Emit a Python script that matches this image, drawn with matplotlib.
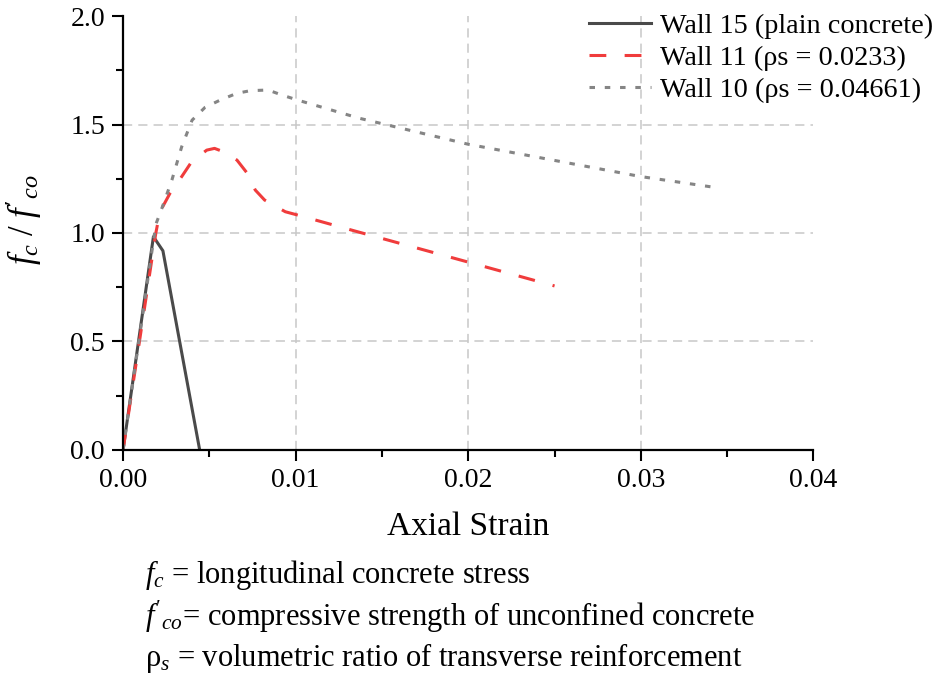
import numpy as np
import matplotlib
matplotlib.use("Agg")
import matplotlib.pyplot as plt

plt.rcParams["font.family"] = ["Liberation Serif", "DejaVu Serif"]
plt.rcParams["mathtext.fontset"] = "custom"
plt.rcParams["mathtext.rm"] = "Liberation Serif"
plt.rcParams["mathtext.it"] = "Liberation Serif:italic"

# data
wall15_strain = [0.0, 0.00176, 0.00231, 0.00444]
wall15_stress = [0.0, 0.983, 0.918, 0.0]

wall11_strain = [0.0, 0.0019, 0.00214, 0.00272, 0.0034, 0.00398, 0.00485, 0.0053,
                 0.0058, 0.0066, 0.0072, 0.00766, 0.0082, 0.0094, 0.0101, 0.01335,
                 0.0199, 0.0250]
wall11_stress = [0.0, 1.0, 1.098, 1.183, 1.26, 1.329, 1.382, 1.39,
                 1.375, 1.336, 1.275, 1.198, 1.152, 1.098, 1.083, 1.011,
                 0.868, 0.756]

wall10_strain = [0.0, 0.0019, 0.00225, 0.00283, 0.0034, 0.004, 0.00475, 0.00564,
                 0.0066, 0.00738, 0.0084, 0.0092, 0.0101, 0.01368, 0.02, 0.03, 0.0343]
wall10_stress = [0.0, 1.04, 1.114, 1.244, 1.398, 1.52, 1.579, 1.613,
                 1.644, 1.656, 1.659, 1.636, 1.613, 1.529, 1.409, 1.26, 1.21]

labels = ["Wall 15 (plain concrete)", "Wall 11 (ρs = 0.0233)", "Wall 10 (ρs = 0.04661)"]
notes = [r"$f_c$ = longitudinal concrete stress",
         r"$f'_{co}$= compressive strength of unconfined concrete",
         r"ρ$_s$ = volumetric ratio of transverse reinforcement"]

fig = plt.figure(figsize=(9.35, 6.79), dpi=100)
ax = fig.add_axes([0.1316, 0.3373, 0.7384, 0.6391])

ax.plot(wall15_strain, wall15_stress, color="#4a4a4a", lw=2.2, label=labels[0])
ax.plot(wall11_strain, wall11_stress, color="#f03c3c", lw=2.2, dashes=(5.5, 6), label=labels[1])
ax.plot(wall10_strain, wall10_stress, color="#858585", lw=2.2, dashes=(1.8, 3.2), label=labels[2])

ax.set_xlim(0, 0.04)
ax.set_ylim(0, 2.0)
ax.set_xticks([0, 0.01, 0.02, 0.03, 0.04])
ax.set_xticklabels(["0.00", "0.01", "0.02", "0.03", "0.04"])
ax.set_yticks([0, 0.5, 1.0, 1.5, 2.0])
ax.set_yticklabels(["0.0", "0.5", "1.0", "1.5", "2.0"])
ax.set_xticks(np.arange(0.005, 0.04, 0.01), minor=True)
ax.set_yticks([0.25, 0.75, 1.25, 1.75], minor=True)

# interior grid only
for gx in [0.01, 0.02, 0.03]:
    ax.axvline(gx, color="#c8c8c8", lw=1.1, dashes=(6, 4), zorder=0)
for gy in [0.5, 1.0, 1.5]:
    ax.axhline(gy, color="#c8c8c8", lw=1.1, dashes=(6, 4), zorder=0)

for side in ["top", "right"]:
    ax.spines[side].set_visible(False)
for side in ["left", "bottom"]:
    ax.spines[side].set_linewidth(1.6)

ax.tick_params(which="major", direction="out", length=8, width=1.5, labelsize=20, pad=5)
ax.tick_params(which="minor", direction="out", length=5, width=1.5)

ax.set_xlabel("Axial Strain", fontsize=24)
ax.xaxis.set_label_coords(0.5, -0.142)
ax.set_ylabel(r"$f_c\ /\ f'_{co}$", fontsize=25)
ax.yaxis.set_label_coords(-0.115, 0.53)

fig.legend(loc="upper right", bbox_to_anchor=(1.025, 1.018), frameon=False, fontsize=20.3,
           handlelength=2.2, handletextpad=0.3, labelspacing=0.22)

for i, note in enumerate(notes):
    fig.text(0.155, 0.153 - i * 0.061, note, fontsize=22, va="center")

fig.savefig("out.png", dpi=100)
plt.close()
